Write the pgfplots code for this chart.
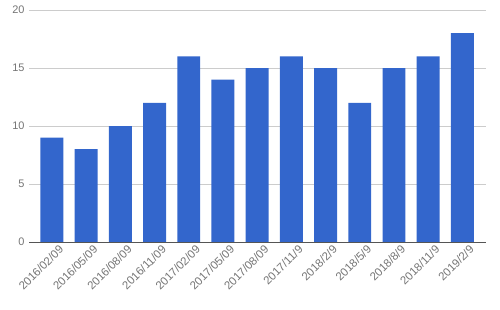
\documentclass[border=0pt]{standalone}
\usepackage{pgfplots}
\pgfplotsset{compat=1.18}
\usepackage{fontspec}
\setmainfont{Liberation Sans}
\definecolor{barblue}{HTML}{3366CC}
\definecolor{gridgray}{HTML}{CCCCCC}
\definecolor{labgray}{HTML}{757575}
\definecolor{basegray}{HTML}{555555}
\begin{document}
\begin{tikzpicture}[x=1bp,y=1bp]
\useasboundingbox (0,0) rectangle (500,309);
\begin{axis}[
  at={(29bp,67bp)}, anchor=south west,
  scale only axis, width=457bp, height=232bp,
  xmin=-0.67, xmax=12.69, ymin=0, ymax=20,
  ytick={0,5,10,15,20},
  xtick={0,...,12},
  xticklabels={2016/02/09,2016/05/09,2016/08/09,2016/11/09,2017/02/09,2017/05/09,2017/08/09,2017/11/9,2018/2/9,2018/5/9,2018/8/9,2018/11/9,2019/2/9},
  x tick label style={rotate=45, anchor=north east, inner sep=1bp, xshift=4bp, yshift=-5bp, font=\fontsize{11.5}{13}\selectfont},
  y tick label style={xshift=-1bp, font=\fontsize{11}{13}\selectfont},
  ticklabel style={text=labgray},
  /pgf/number format/assume math mode=true,
  ymajorgrids, grid style={gridgray, line width=0.8bp},
  axis line style={draw=none},
  major tick length=0pt,
  clip=false,
]
\addplot[ybar, bar width=0.67, fill=barblue, draw=none] coordinates {
(0,9) (1,8) (2,10) (3,12) (4,16) (5,14) (6,15) (7,16) (8,15) (9,12) (10,15) (11,16) (12,18)};
\draw[basegray, line width=0.8bp] (axis cs:-0.67,0) -- (axis cs:12.69,0);
\end{axis}
\end{tikzpicture}
\end{document}
